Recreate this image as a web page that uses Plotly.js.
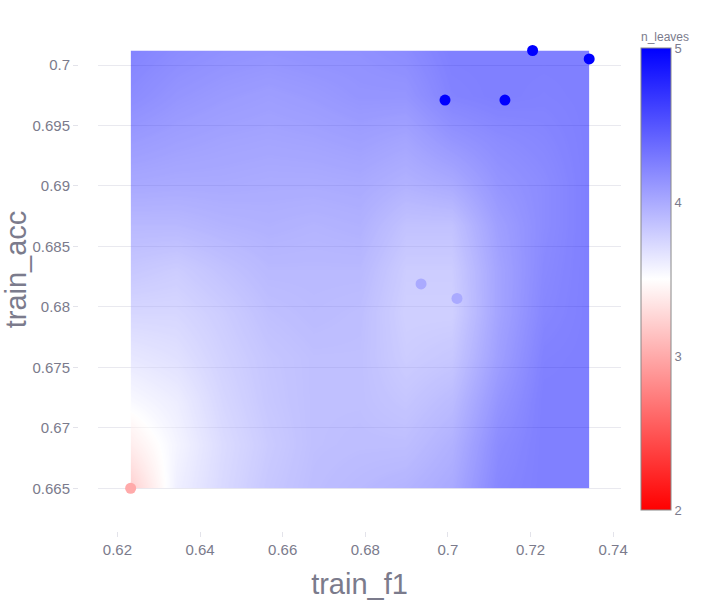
<!DOCTYPE html>
<html>
<head>
<meta charset="utf-8">
<script src="https://cdn.plot.ly/plotly-3.0.1.min.js"></script>
<style>html,body{margin:0;padding:0;background:#fff;}#chart{width:704px;height:600px;}</style>
</head>
<body>
<div id="chart"></div>
<script>
// Observed runs
const train_f1 = [0.6232, 0.6935, 0.7022, 0.6993, 0.7138, 0.7205, 0.7342];
const train_acc = [0.6650, 0.6819, 0.6807, 0.6971, 0.6971, 0.7012, 0.7005];
const n_leaves = [3, 4, 4, 5, 5, 5, 5];

// Interpolated surface
const gridX = [0.6232, 0.6343, 0.6454, 0.6565, 0.6676, 0.6787, 0.6898, 0.7009, 0.7120, 0.7231, 0.7342];
const gridY = [0.6650, 0.6686, 0.6722, 0.6758, 0.6795, 0.6831, 0.6867, 0.6903, 0.6939, 0.6975, 0.7012];
const gridZ = [
  [2.95, 3.68, 3.94, 4.15, 4.26, 4.32, 4.38, 4.50, 4.91, 5.00, 5.00],
  [3.30, 3.62, 3.91, 4.11, 4.24, 4.26, 4.26, 4.41, 4.85, 5.00, 5.00],
  [3.56, 3.70, 3.97, 4.15, 4.24, 4.24, 4.17, 4.29, 4.74, 5.00, 5.00],
  [3.77, 3.85, 4.03, 4.17, 4.24, 4.24, 4.09, 4.15, 4.62, 4.97, 5.00],
  [3.97, 3.97, 4.09, 4.24, 4.29, 4.26, 4.05, 4.05, 4.56, 4.91, 5.00],
  [4.15, 4.09, 4.21, 4.32, 4.32, 4.32, 4.09, 4.09, 4.56, 4.88, 5.00],
  [4.32, 4.32, 4.38, 4.41, 4.38, 4.41, 4.21, 4.21, 4.62, 4.85, 5.00],
  [4.52, 4.50, 4.50, 4.48, 4.48, 4.50, 4.41, 4.50, 4.74, 4.85, 5.00],
  [4.68, 4.62, 4.58, 4.56, 4.58, 4.62, 4.56, 4.74, 4.85, 4.91, 5.00],
  [4.85, 4.74, 4.68, 4.64, 4.68, 4.74, 4.74, 4.95, 5.00, 4.97, 5.00],
  [4.95, 4.85, 4.79, 4.76, 4.79, 4.79, 4.85, 5.00, 5.00, 5.00, 5.00]
];

const rwb = [[0, 'rgb(255,0,0)'], [0.5, 'rgb(255,255,255)'], [1, 'rgb(0,0,255)']];
const txt = '#7b7b8c';
const fam = 'Arial, "Liberation Sans", sans-serif';

const surface = {
  type: 'contour',
  x: gridX, y: gridY, z: gridZ,
  colorscale: rwb, zmin: 2, zmax: 5,
  contours: {coloring: 'heatmap', showlines: false},
  line: {width: 0},
  opacity: 0.7071,
  showscale: false,
  hoverinfo: 'skip'
};

const points = {
  type: 'scatter', mode: 'markers',
  x: train_f1, y: train_acc,
  marker: {
    size: 11, color: n_leaves, colorscale: rwb, cmin: 2, cmax: 5,
    showscale: true,
    colorbar: {
      title: {text: 'n_leaves', side: 'top', font: {size: 12, color: txt, family: fam}},
      tickfont: {size: 13, color: txt, family: fam},
      tickvals: [2, 3, 4, 5],
      thickness: 30,
      ypad: 8,
      outlinecolor: '#888', outlinewidth: 1
    }
  },
  showlegend: false
};

const axisCommon = {
  zeroline: false,
  ticks: 'outside', ticklen: 5, tickcolor: '#E3E3EA',
  showline: true, linecolor: 'rgba(0,0,0,0)',
  tickfont: {size: 15, color: txt, family: fam}
};

const layout = {
  width: 704, height: 600,
  margin: {l: 98, r: 83, t: 21, b: 82, autoexpand: false},
  paper_bgcolor: '#fff', plot_bgcolor: '#fff',
  font: {family: fam, color: txt},
  xaxis: Object.assign({}, axisCommon, {
    showgrid: false, range: [0.6153, 0.7419], linewidth: 14,
    title: {text: 'train_f1', font: {size: 29, color: txt, family: fam}}
  }),
  yaxis: Object.assign({}, axisCommon, {
    showgrid: true, gridcolor: '#E9E9EF', range: [0.66254, 0.70364], linewidth: 20,
    title: {text: 'train_acc', font: {size: 29, color: txt, family: fam}}
  })
};

Plotly.newPlot('chart', [surface, points], layout, {displayModeBar: false});
</script>
</body>
</html>
